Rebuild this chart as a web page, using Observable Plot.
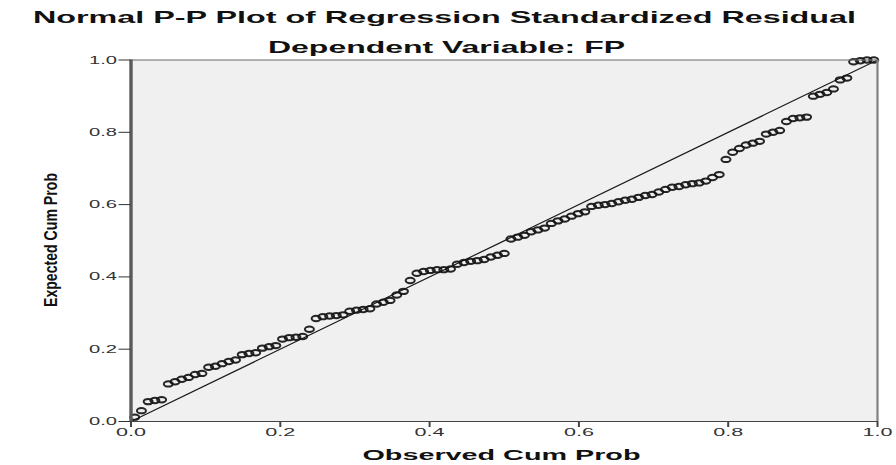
<!DOCTYPE html>
<html>
<head>
<meta charset="utf-8">
<script src="https://cdn.jsdelivr.net/npm/d3@7"></script>
<script src="https://cdn.jsdelivr.net/npm/@observablehq/plot@0.6"></script>
<style>
  html, body { margin: 0; padding: 0; background: #ffffff; }
  #chart { width: 896px; height: 465px; overflow: hidden; }
</style>
</head>
<body>
<div id="chart"></div>
<script>
// ---- Data ----
const titleText = "Normal P-P Plot of Regression Standardized Residual";
const subtitleText = "Dependent Variable: FP";
const xLabel = "Observed Cum Prob";
const yLabel = "Expected Cum Prob";
const tickValues = [0, 0.2, 0.4, 0.6, 0.8, 1.0];
const tickLabels = ["0.0", "0.2", "0.4", "0.6", "0.8", "1.0"];
const refLine = [0, 1];

const observedCumProb = [
  0.005, 0.014, 0.023, 0.032, 0.041, 0.050, 0.059, 0.068, 0.077, 0.086,
  0.095, 0.104, 0.113, 0.122, 0.131, 0.140, 0.149, 0.158, 0.167, 0.176,
  0.185, 0.194, 0.203, 0.212, 0.221, 0.230, 0.239, 0.248, 0.257, 0.266,
  0.275, 0.284, 0.293, 0.302, 0.311, 0.320, 0.329, 0.338, 0.347, 0.356,
  0.365, 0.374, 0.383, 0.392, 0.401, 0.410, 0.419, 0.428, 0.437, 0.446,
  0.455, 0.464, 0.473, 0.482, 0.491, 0.500, 0.509, 0.518, 0.527, 0.536,
  0.545, 0.554, 0.563, 0.572, 0.581, 0.590, 0.599, 0.608, 0.617, 0.626,
  0.635, 0.644, 0.653, 0.662, 0.671, 0.680, 0.689, 0.698, 0.707, 0.716,
  0.725, 0.734, 0.743, 0.752, 0.761, 0.770, 0.779, 0.788, 0.797, 0.806,
  0.815, 0.824, 0.833, 0.842, 0.851, 0.860, 0.869, 0.878, 0.887, 0.896,
  0.905, 0.914, 0.923, 0.932, 0.941, 0.950, 0.959, 0.968, 0.977, 0.986,
  0.995
];
const expectedCumProb = [
  0.012, 0.030, 0.055, 0.058, 0.060, 0.104, 0.110, 0.117, 0.122, 0.130,
  0.133, 0.150, 0.153, 0.160, 0.166, 0.170, 0.185, 0.188, 0.190, 0.203,
  0.207, 0.210, 0.228, 0.232, 0.233, 0.235, 0.255, 0.285, 0.290, 0.292,
  0.293, 0.295, 0.305, 0.308, 0.310, 0.312, 0.325, 0.330, 0.335, 0.350,
  0.360, 0.390, 0.410, 0.415, 0.418, 0.420, 0.420, 0.422, 0.435, 0.440,
  0.443, 0.445, 0.448, 0.455, 0.460, 0.465, 0.505, 0.510, 0.515, 0.525,
  0.530, 0.535, 0.548, 0.555, 0.560, 0.568, 0.575, 0.580, 0.595, 0.598,
  0.600, 0.603, 0.608, 0.612, 0.615, 0.620, 0.625, 0.628, 0.635, 0.642,
  0.648, 0.650, 0.655, 0.658, 0.660, 0.665, 0.675, 0.683, 0.725, 0.745,
  0.755, 0.765, 0.770, 0.775, 0.795, 0.800, 0.805, 0.830, 0.838, 0.840,
  0.842, 0.900, 0.905, 0.910, 0.920, 0.945, 0.950, 0.995, 0.998, 1.000,
  1.000
];

// table built from the arrays
const points = observedCumProb.map((x, i) => ({x, y: expectedCumProb[i]}));

// open ellipse marker (reference picture is horizontally stretched)
const ellipseSymbol = {
  draw(ctx) {
    const rx = 4.5, ry = 2.7, k = 0.5523, kx = rx * k, ky = ry * k;
    ctx.moveTo(rx, 0);
    ctx.bezierCurveTo(rx, ky, kx, ry, 0, ry);
    ctx.bezierCurveTo(-kx, ry, -rx, ky, -rx, 0);
    ctx.bezierCurveTo(-rx, -ky, -kx, -ry, 0, -ry);
    ctx.bezierCurveTo(kx, -ry, rx, -ky, rx, 0);
    ctx.closePath();
  }
};

const fmt = d => tickLabels[tickValues.indexOf(d)];

const chart = Plot.plot({
  width: 896,
  height: 465,
  marginLeft: 130.5,
  marginRight: 19,
  marginTop: 59.5,
  marginBottom: 44,
  style: {fontFamily: "'Liberation Sans', Arial, sans-serif", fontSize: "11px", background: "#ffffff", color: "#222"},
  x: {domain: [0, 1]},
  y: {domain: [0, 1]},
  marks: [
    Plot.frame({fill: "#f0f0f0", stroke: null}),
    Plot.line(refLine, {x: d => d, y: d => d, stroke: "#1a1a1a", strokeWidth: 1.2}),
    Plot.dot(points, {x: "x", y: "y", symbol: ellipseSymbol, stroke: "#141414", strokeWidth: 2, fill: "none", strokeOpacity: 0.92}),
    // frame borders
    Plot.ruleY([1], {stroke: "#6a6a6a", strokeWidth: 1.2}),
    Plot.ruleX([1], {stroke: "#808080", strokeWidth: 2.2}),
    Plot.ruleY([0], {stroke: "#444", strokeWidth: 1.2}),
    Plot.ruleX([0], {stroke: "#5a5a5a", strokeWidth: 3.4}),
    Plot.axisX({ticks: tickValues, tickFormat: fmt, tickSize: 6, tickPadding: 1, label: null, strokeWidth: 2, stroke: "#444", fill: "#333"}),
    Plot.axisY({ticks: tickValues, tickFormat: fmt, tickSize: 12, tickPadding: 2, label: null, stroke: "#333", fill: "#333"})
  ]
});

document.getElementById("chart").appendChild(chart);

const svg = d3.select(chart);
svg.selectAll('g[aria-label="x-axis tick label"] text')
  .attr("textLength", 30).attr("lengthAdjust", "spacingAndGlyphs");
svg.selectAll('g[aria-label="y-axis tick label"] text')
  .attr("textLength", 28).attr("lengthAdjust", "spacingAndGlyphs");

const font = "'Liberation Sans', Arial, sans-serif";
function addText(txt, x, y, size, len, rotate) {
  const t = svg.append("text")
    .attr("text-anchor", "middle")
    .attr("font-family", font)
    .attr("font-weight", "bold")
    .attr("font-size", size)
    .attr("fill", "#111")
    .attr("textLength", len)
    .attr("lengthAdjust", "spacingAndGlyphs")
    .text(txt);
  if (rotate) t.attr("transform", `translate(${x},${y}) rotate(-90)`);
  else t.attr("x", x).attr("y", y);
}
addText(titleText, 444.5, 23, 17, 823);
addText(subtitleText, 446.5, 53, 17, 357);
addText(xLabel, 501.5, 460, 14, 278);
addText(yLabel, 57, 240, 18.5, 134, true);
</script>
</body>
</html>
